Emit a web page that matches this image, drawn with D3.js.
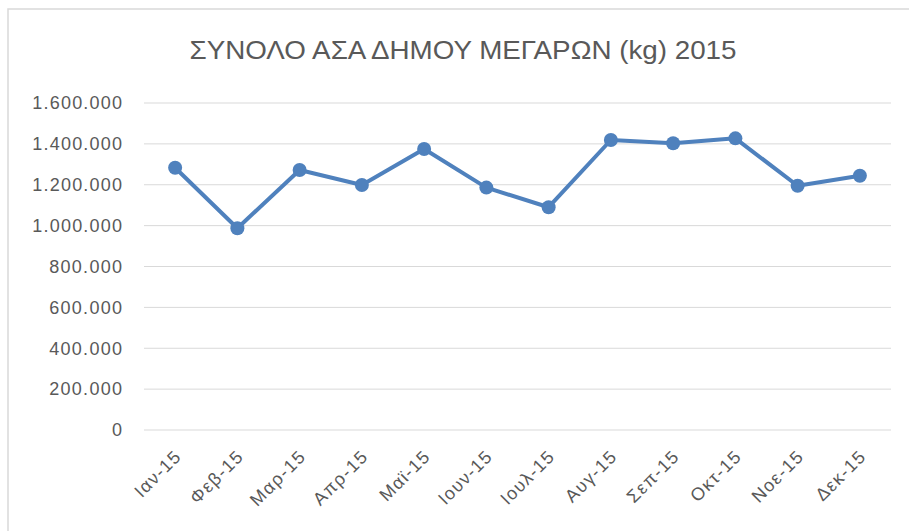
<!DOCTYPE html>
<html>
<head>
<meta charset="utf-8">
<script src="https://cdn.jsdelivr.net/npm/d3@7"></script>
<style>
  body { margin: 0; background: #fff; }
  svg { display: block; }
</style>
</head>
<body>
<div id="chart"></div>
<script>
// chart data
var months = ["Ιαν-15", "Φεβ-15", "Μαρ-15", "Απρ-15", "Μαϊ-15", "Ιουν-15",
  "Ιουλ-15", "Αυγ-15", "Σεπ-15", "Οκτ-15", "Νοε-15", "Δεκ-15"];
var totals = [1283000, 987000, 1272000, 1199000, 1375000, 1186000,
  1090000, 1419000, 1403000, 1427000, 1195000, 1244000];
var yTicks = [0, 200000, 400000, 600000, 800000, 1000000, 1200000, 1400000, 1600000];
var title = "ΣΥΝΟΛΟ ΑΣΑ ΔΗΜΟΥ ΜΕΓΑΡΩΝ (kg) 2015";

var W = 909, H = 531;
var margin = { top: 103, right: 18, bottom: 101, left: 144 },
  width = W - margin.left - margin.right,
  height = H - margin.top - margin.bottom;
var font = "'Liberation Sans', Arial, sans-serif";
var stretch = 1.12; // the reference text is a bit wider than Liberation Sans

var svg = d3.select("#chart").append("svg")
  .attr("width", W)
  .attr("height", H);

// chart area border (runs off the right and bottom edge)
svg.append("rect")
  .attr("x", 8).attr("y", 9)
  .attr("width", 1000).attr("height", 1000)
  .style("fill", "none")
  .style("stroke", "#d9d9d9")
  .style("stroke-width", 1.5);

svg.append("text")
  .attr("x", 463).attr("y", 59)
  .attr("text-anchor", "middle")
  .attr("font-family", font)
  .attr("font-size", 25)
  .attr("fill", "#595959")
  .attr("textLength", 547)
  .attr("lengthAdjust", "spacingAndGlyphs")
  .text(title);

var fmt = d3.formatLocale({ decimal: ",", thousands: ".", grouping: [3], currency: ["", "€"] }).format(",");

var x = d3.scaleBand().domain(months).range([0, width]);
var y = d3.scaleLinear().domain([0, 1600000]).range([height, 0]);

var g = svg.append("g")
  .attr("transform", "translate(" + margin.left + "," + margin.top + ")");

// gridlines
g.selectAll(".grid")
  .data(yTicks)
  .enter().append("line")
  .attr("x1", 0).attr("x2", width)
  .attr("y1", function (d) { return y(d); })
  .attr("y2", function (d) { return y(d); })
  .style("stroke", "#d9d9d9")
  .style("stroke-width", 1);

// widen a label a little, like the reference
function widen(sel) {
  sel.each(function () {
    var w = this.getComputedTextLength();
    d3.select(this).attr("textLength", w * stretch).attr("lengthAdjust", "spacing");
  });
}

// y axis labels
var yAxis = g.append("g")
  .call(d3.axisLeft(y).tickValues(yTicks).tickFormat(fmt).tickSize(0).tickPadding(22));
yAxis.select(".domain").remove();
yAxis.selectAll("text")
  .attr("font-family", font)
  .attr("font-size", 18)
  .attr("fill", "#595959")
  .call(widen);

// x axis labels, rotated
var xAxis = g.append("g")
  .attr("transform", "translate(0," + height + ")")
  .call(d3.axisBottom(x).tickSize(0).tickPadding(0));
xAxis.select(".domain").remove();
xAxis.selectAll("text")
  .attr("font-family", font)
  .attr("font-size", 18)
  .attr("fill", "#595959")
  .attr("text-anchor", "end")
  .attr("dy", "0.35em")
  .attr("transform", "translate(2,24) rotate(-45)")
  .call(widen);

var line = d3.line()
  .x(function (d, i) { return x(months[i]) + x.bandwidth() / 2; })
  .y(function (d) { return y(d); });

g.append("path")
  .datum(totals)
  .attr("d", line)
  .style("fill", "none")
  .style("stroke", "#4f81bd")
  .style("stroke-width", 4)
  .style("stroke-linejoin", "round");

g.selectAll(".dot")
  .data(totals)
  .enter().append("circle")
  .attr("class", "dot")
  .attr("cx", function (d, i) { return x(months[i]) + x.bandwidth() / 2; })
  .attr("cy", function (d) { return y(d); })
  .attr("r", 7)
  .style("fill", "#4f81bd");
</script>
</body>
</html>
